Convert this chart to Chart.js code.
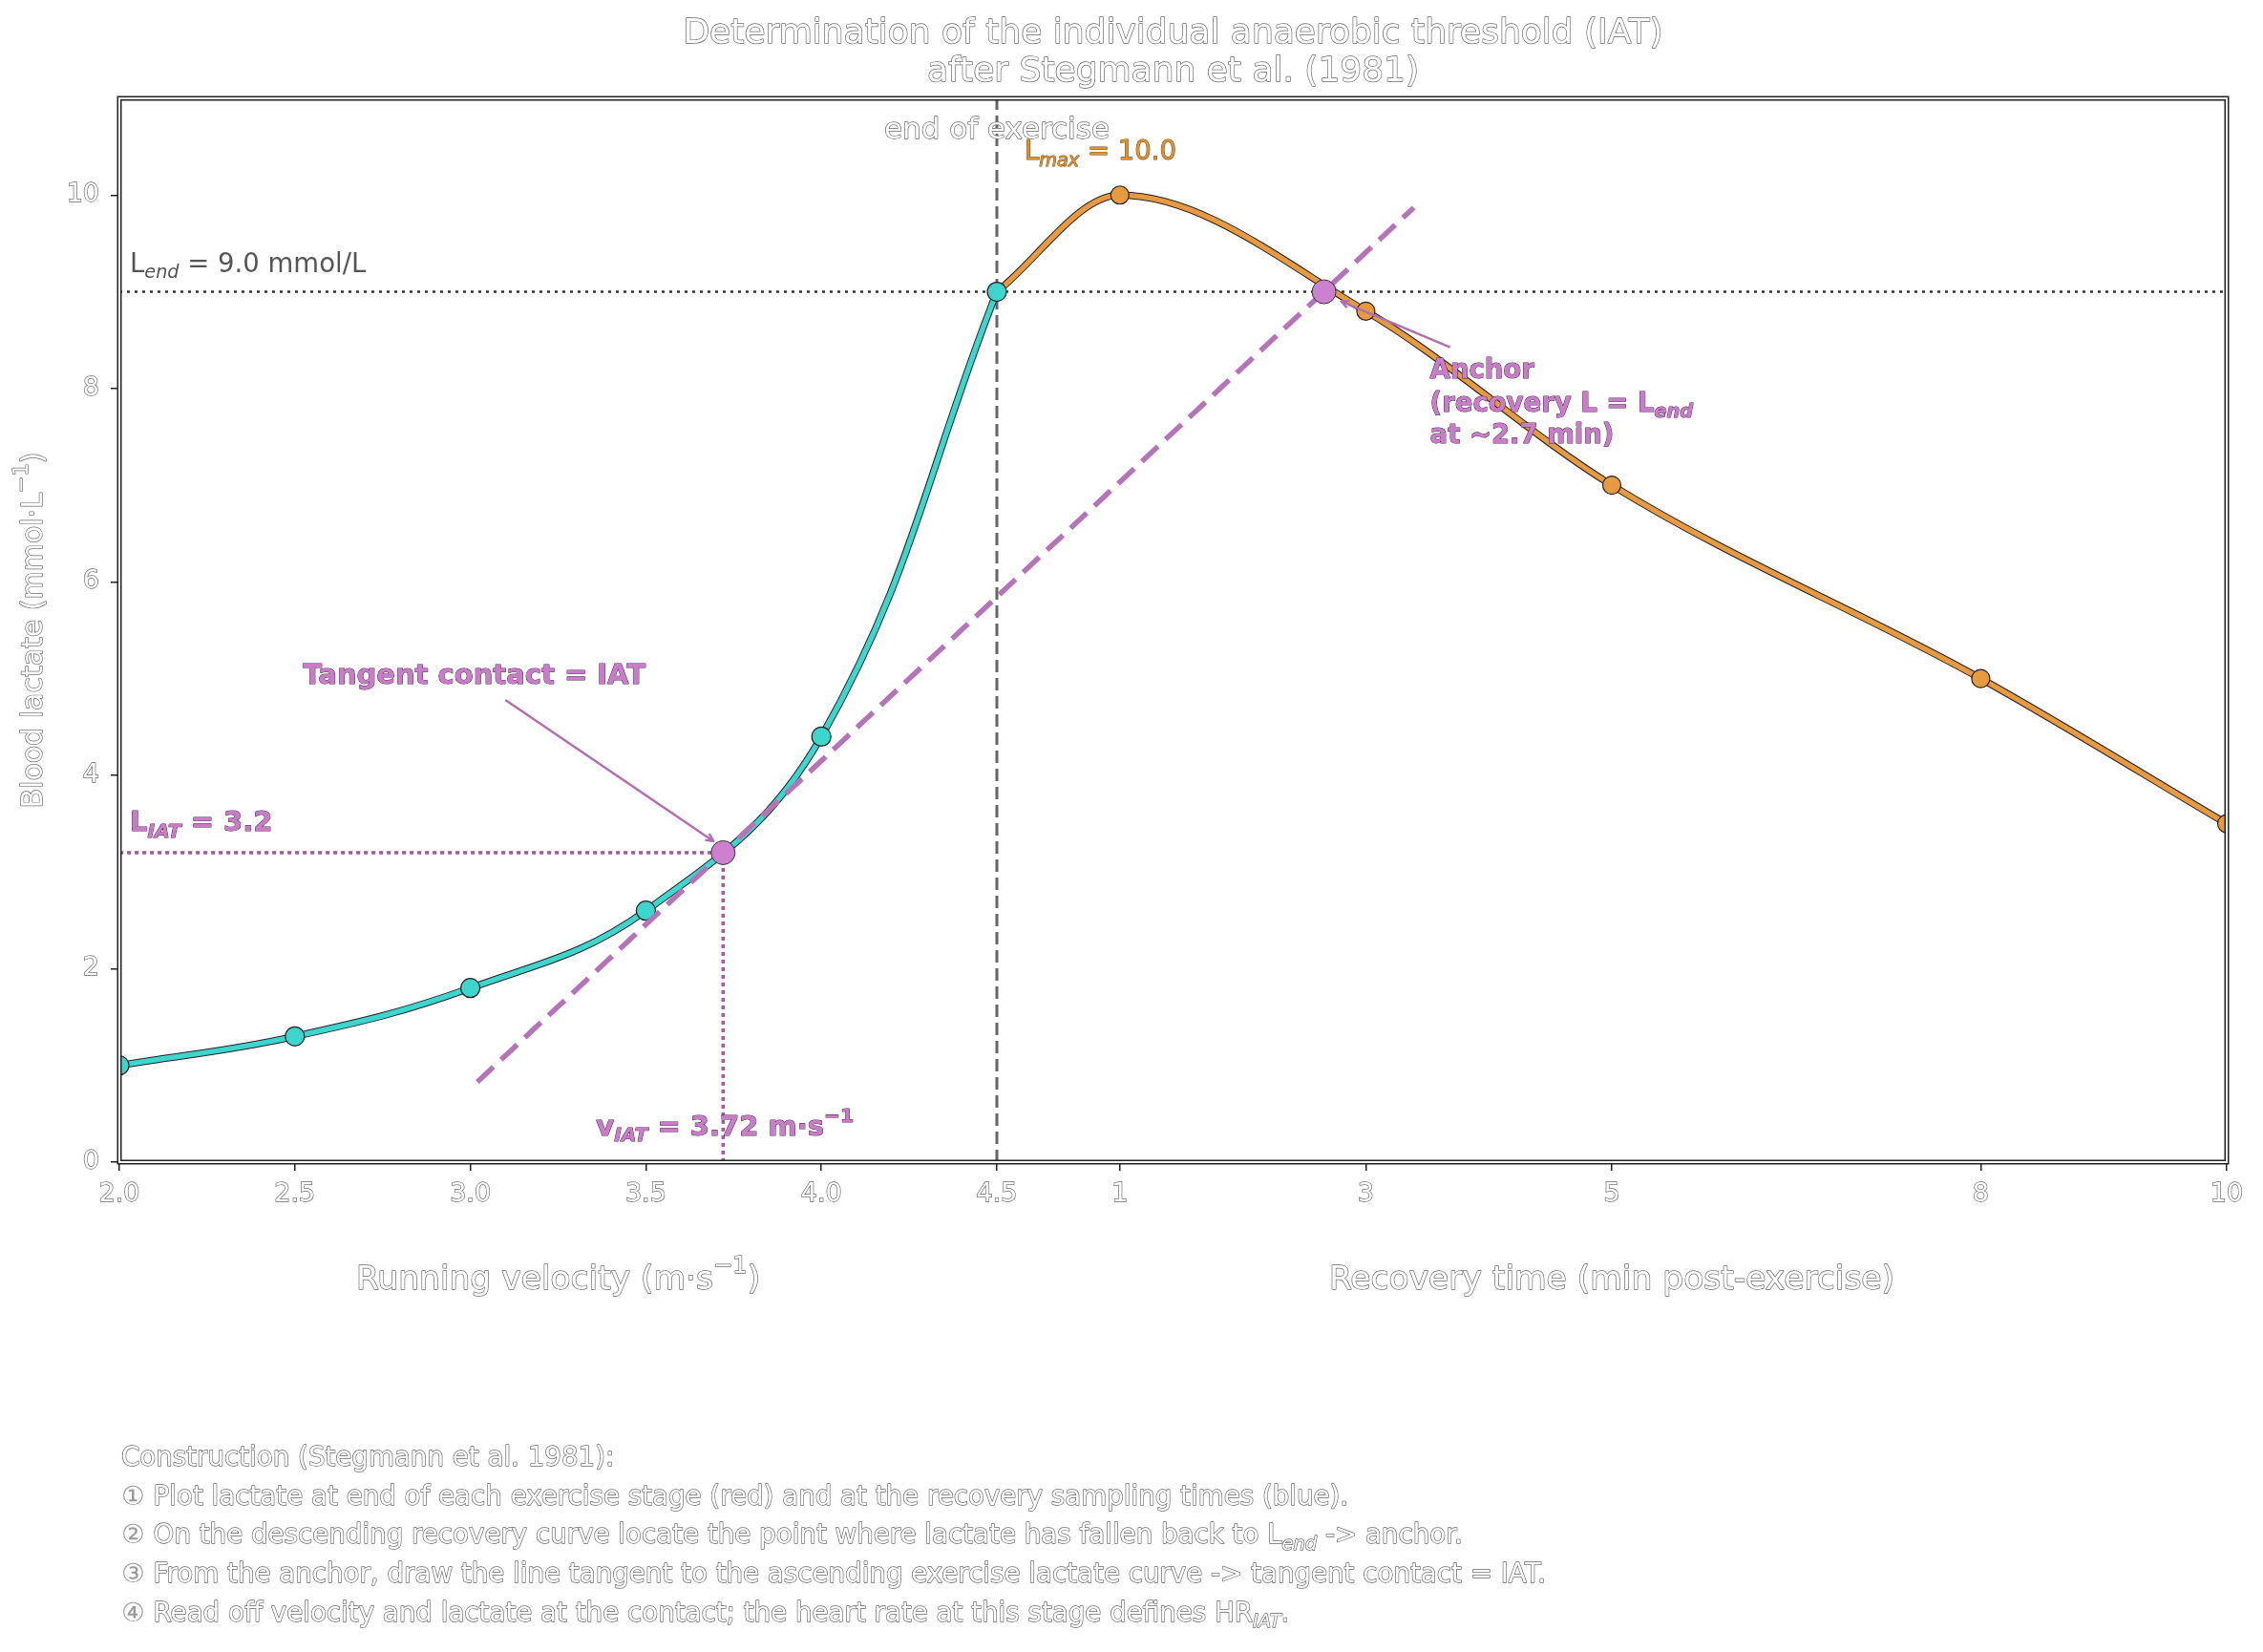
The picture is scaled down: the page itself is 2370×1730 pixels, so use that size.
<!DOCTYPE html>
<html>
<head>
<meta charset="utf-8">
<script src="https://cdn.jsdelivr.net/npm/chart.js@4.4.1/dist/chart.umd.min.js"></script>
<style>
  html, body { margin: 0; padding: 0; background: #fff; }
</style>
</head>
<body>
<canvas id="chart" width="2370" height="1730"></canvas>
<script>
// exercise test: lactate at the end of each stage
const exerciseVelocity = [2.0, 2.5, 3.0, 3.5, 4.0, 4.5];
const exerciseLactate = [1.0, 1.3, 1.8, 2.6, 4.4, 9.0];
// recovery samples (min after end of exercise)
const recoveryTime = [0, 1, 3, 5, 8, 10];
const recoveryLactate = [9.0, 10.0, 8.8, 7.0, 5.0, 3.5];
// construction points
const anchorTime = [2.66];
const anchorLactate = [9.0];
const iatVelocity = [3.72];
const iatLactate = [3.2];
const lactateEnd = 9.0;
const lactateMax = 10.0;
const tangentStart = [3.02, 0.83];   // velocity, lactate
const tangentEnd = [3.39, 9.87];     // recovery min, lactate
// ticks
const velocityTicks = [2.0, 2.5, 3.0, 3.5, 4.0, 4.5];
const recoveryTicks = [1, 3, 5, 8, 10];
const lactateTicks = [0, 2, 4, 6, 8, 10];

// one shared x axis: velocity part on the left, recovery minutes on the right
const MIN_PER_MS = 2.854;
const vEnd = exerciseVelocity[exerciseVelocity.length - 1];
function vx(v) { return (v - vEnd) * MIN_PER_MS; }

const FONT = 'DejaVu Sans';
const CYAN = '#3dd6cf', ORANGE = '#e89a40', PURPLE = '#cd80cd', PURPLE_TXT = '#c97dc9';

const exercisePts = exerciseVelocity.map((v, i) => ({ x: vx(v), y: exerciseLactate[i] }));
const recoveryPts = recoveryTime.map((t, i) => ({ x: t, y: recoveryLactate[i] }));
const xMin = vx(velocityTicks[0]);
const xMax = recoveryTicks[recoveryTicks.length - 1];

function richText(ctx, parts, x, y, o) {
    const size = o.size, w = o.weight || 'normal';
    const fontFor = p => {
        const small = p[1] === 'sub' || p[1] === 'sup';
        const it = p[1] === 'sub' ? 'italic ' : '';
        return it + w + ' ' + (small ? size * 0.7 : size) + 'px "' + FONT + '"';
    };
    let total = 0;
    parts.forEach(p => { ctx.font = fontFor(p); total += ctx.measureText(p[0]).width; });
    let cx = o.align === 'center' ? x - total / 2 : x;
    ctx.textBaseline = 'middle';
    ctx.textAlign = 'left';
    parts.forEach(p => {
        ctx.font = fontFor(p);
        const dy = p[1] === 'sub' ? size * 0.3 : p[1] === 'sup' ? -size * 0.4 : 0;
        if (p[1] === 'mark') { // circled numbers: thin glyph, no outline
            ctx.fillStyle = '#9a9a9a';
            ctx.fillText(p[0], cx, y);
        } else {
            if (o.stroke) {
                ctx.lineWidth = o.strokeWidth || 2;
                ctx.strokeStyle = o.stroke;
                ctx.lineJoin = 'round';
                ctx.strokeText(p[0], cx, y + dy);
            }
            ctx.fillStyle = o.fill;
            ctx.fillText(p[0], cx, y + dy);
        }
        cx += ctx.measureText(p[0]).width;
    });
}

function arrow(ctx, x1, y1, x2, y2) {
    ctx.save();
    ctx.strokeStyle = '#b070b0';
    ctx.lineWidth = 2.5;
    ctx.beginPath(); ctx.moveTo(x1, y1); ctx.lineTo(x2, y2); ctx.stroke();
    const a = Math.atan2(y2 - y1, x2 - x1), h = 9;
    ctx.beginPath();
    ctx.moveTo(x2 - h * Math.cos(a - 0.45), y2 - h * Math.sin(a - 0.45));
    ctx.lineTo(x2, y2);
    ctx.lineTo(x2 - h * Math.cos(a + 0.45), y2 - h * Math.sin(a + 0.45));
    ctx.stroke();
    ctx.restore();
}

const outline = { fill: '#ffffff', stroke: '#6a6a6a', strokeWidth: 1.4 };
const purpleBold = { fill: PURPLE_TXT, stroke: '#4a2a4a', strokeWidth: 1, weight: 'bold', size: 27.5 };
const purpleBig = Object.assign({}, purpleBold, { size: 29 });

const textPlugin = {
    id: 'texts',
    afterDraw(chart) {
        const ctx = chart.ctx, a = chart.chartArea;
        const xs = chart.scales.x, ys = chart.scales.y;
        ctx.save();

        // frame (double line)
        ctx.strokeStyle = '#222'; ctx.lineWidth = 5;
        ctx.strokeRect(a.left, a.top, a.right - a.left, a.bottom - a.top);
        ctx.strokeStyle = '#fff'; ctx.lineWidth = 2;
        ctx.strokeRect(a.left, a.top, a.right - a.left, a.bottom - a.top);

        const midX = (a.left + a.right) / 2;
        richText(ctx, [['Determination of the individual anaerobic threshold (IAT)']], midX, 36, Object.assign({ size: 36, align: 'center' }, outline));
        richText(ctx, [['after Stegmann et al. (1981)']], midX, 76, Object.assign({ size: 36, align: 'center' }, outline));

        const x0 = xs.getPixelForValue(0);
        richText(ctx, [['end of exercise']], x0, a.top + 34, Object.assign({ size: 31, align: 'center' }, outline));
        richText(ctx, [['L'], ['max', 'sub'], [' = ' + lactateMax.toFixed(1)]], x0 + 29, ys.getPixelForValue(lactateMax) - 44,
            { size: 27.5, fill: '#e0902f', stroke: '#6b4a20', strokeWidth: 1 });
        richText(ctx, [['L'], ['end', 'sub'], [' = ' + lactateEnd.toFixed(1) + ' mmol/L']], a.left + 11, ys.getPixelForValue(lactateEnd) - 28,
            { size: 27.5, fill: '#555' });

        const cx = xs.getPixelForValue(vx(iatVelocity[0])), cy = ys.getPixelForValue(iatLactate[0]);
        richText(ctx, [['L'], ['IAT', 'sub'], [' = ' + iatLactate[0].toFixed(1)]], a.left + 11, cy - 30, purpleBig);
        richText(ctx, [['v'], ['IAT', 'sub'], [' = ' + iatVelocity[0].toFixed(2) + ' m·s'], ['−1', 'sup']], cx - 133, a.bottom - 36, purpleBig);
        richText(ctx, [['Tangent contact = IAT']], cx - 440, cy - 184, purpleBig);
        arrow(ctx, cx - 228, cy - 160, cx - 10, cy - 12);

        const ax = xs.getPixelForValue(anchorTime[0]), ay = ys.getPixelForValue(anchorLactate[0]);
        richText(ctx, [['Anchor']], ax + 111, ay + 83, purpleBold);
        richText(ctx, [['(recovery L = L'], ['end', 'sub']], ax + 111, ay + 118, purpleBold);
        richText(ctx, [['at ~2.7 min)']], ax + 111, ay + 151, purpleBold);
        arrow(ctx, ax + 132, ay + 58, ax + 18, ay + 10);

        // axis titles
        richText(ctx, [['Running velocity (m·s'], ['−1', 'sup'], [')']], (a.left + x0) / 2, 1341, Object.assign({ size: 34.5, align: 'center' }, outline));
        richText(ctx, [['Recovery time (min post-exercise)']], (x0 + a.right) / 2, 1341, Object.assign({ size: 34.5, align: 'center' }, outline));
        ctx.save();
        ctx.translate(36, (a.top + a.bottom) / 2);
        ctx.rotate(-Math.PI / 2);
        richText(ctx, [['Blood lactate (mmol·L'], ['−1', 'sup'], [')']], 0, 0, Object.assign({ size: 30, align: 'center' }, outline));
        ctx.restore();

        // construction notes
        const notes = [
            [['Construction (Stegmann et al. 1981):']],
            [['①', 'mark'], [' Plot lactate at end of each exercise stage (red) and at the recovery sampling times (blue).']],
            [['②', 'mark'], [' On the descending recovery curve locate the point where lactate has fallen back to L'], ['end', 'sub'], [' -> anchor.']],
            [['③', 'mark'], [' From the anchor, draw the line tangent to the ascending exercise lactate curve -> tangent contact = IAT.']],
            [['④', 'mark'], [' Read off velocity and lactate at the contact; the heart rate at this stage defines HR'], ['IAT', 'sub'], ['.']]
        ];
        notes.forEach((n, i) => richText(ctx, n, 127, 1528 + i * 40.6, Object.assign({ size: 27.7 }, outline)));
        ctx.restore();
    }
};

new Chart(document.getElementById('chart'), {
    type: 'line',
    data: {
        datasets: [
            { // contact marker
                data: [{ x: vx(iatVelocity[0]), y: iatLactate[0] }],
                showLine: false, pointRadius: 12.5, pointBackgroundColor: PURPLE,
                pointBorderColor: '#333', pointBorderWidth: 1, order: 0
            },
            { // anchor marker
                data: [{ x: anchorTime[0], y: anchorLactate[0] }],
                showLine: false, pointRadius: 12.5, pointBackgroundColor: PURPLE,
                pointBorderColor: '#333', pointBorderWidth: 1, order: 0
            },
            { // tangent
                data: [{ x: vx(tangentStart[0]), y: tangentStart[1] }, { x: tangentEnd[0], y: tangentEnd[1] }],
                borderColor: '#b574b8', borderWidth: 5.5, borderDash: [23, 11], pointRadius: 0, order: 2
            },
            { // exercise curve
                data: exercisePts, borderColor: CYAN, borderWidth: 5.5, tension: 0.4,
                pointRadius: 10, pointBackgroundColor: CYAN, pointBorderColor: '#222', pointBorderWidth: 1.2,
                clip: 0, order: 3
            },
            {
                data: exercisePts, borderColor: '#222', borderWidth: 7.5, tension: 0.4,
                pointRadius: 0, clip: 0, order: 4
            },
            { // recovery curve
                data: recoveryPts, borderColor: ORANGE, borderWidth: 5.5, cubicInterpolationMode: 'monotone',
                pointRadius: recoveryTime.map((t, i) => i === 0 ? 0 : 9.5),
                pointBackgroundColor: ORANGE, pointBorderColor: '#222', pointBorderWidth: 1.2,
                clip: 0, order: 5
            },
            {
                data: recoveryPts, borderColor: '#222', borderWidth: 7.5, cubicInterpolationMode: 'monotone',
                pointRadius: 0, clip: 0, order: 6
            },
            { // L_end reference
                data: [{ x: xMin, y: lactateEnd }, { x: xMax, y: lactateEnd }],
                borderColor: '#333', borderWidth: 2.5, borderDash: [3, 5], pointRadius: 0, order: 8
            },
            { // end of exercise
                data: [{ x: 0, y: 0 }, { x: 0, y: 11 }],
                borderColor: '#666', borderWidth: 3, borderDash: [13, 6], pointRadius: 0, order: 8
            },
            { // L_IAT
                data: [{ x: xMin, y: iatLactate[0] }, { x: vx(iatVelocity[0]), y: iatLactate[0] }],
                borderColor: '#9c5f9c', borderWidth: 3.5, borderDash: [4, 4], pointRadius: 0, order: 8
            },
            { // v_IAT
                data: [{ x: vx(iatVelocity[0]), y: iatLactate[0] }, { x: vx(iatVelocity[0]), y: 0 }],
                borderColor: '#9c5f9c', borderWidth: 3.5, borderDash: [4, 4], pointRadius: 0, order: 8
            }
        ]
    },
    options: {
        responsive: false,
        animation: false,
        devicePixelRatio: 1,
        layout: { padding: { top: 103, right: 38, left: 0, bottom: 0 } },
        plugins: { legend: { display: false }, tooltip: { enabled: false } },
        scales: {
            x: {
                type: 'linear', min: xMin, max: xMax,
                afterBuildTicks: s => {
                    s.ticks = velocityTicks.map(v => ({ value: vx(v) })).concat(recoveryTicks.map(t => ({ value: t })));
                },
                afterFit: s => { s.height = 513; },
                ticks: {
                    autoSkip: false, maxRotation: 0, padding: 9,
                    color: '#fff', textStrokeColor: '#6a6a6a', textStrokeWidth: 1.4,
                    font: { family: FONT, size: 27 },
                    callback: v => v <= 0.001 ? (v / MIN_PER_MS + vEnd).toFixed(1) : String(Math.round(v))
                },
                grid: { drawOnChartArea: false, drawTicks: true, tickLength: 9, color: '#222', lineWidth: 1.5 },
                border: { display: false }
            },
            y: {
                type: 'linear', min: 0, max: 11,
                afterBuildTicks: s => { s.ticks = lactateTicks.map(v => ({ value: v })); },
                afterFit: s => { s.width = 125; },
                ticks: {
                    padding: 12,
                    color: '#fff', textStrokeColor: '#6a6a6a', textStrokeWidth: 1.4,
                    font: { family: FONT, size: 27 }
                },
                grid: { drawOnChartArea: false, drawTicks: true, tickLength: 9, color: '#222', lineWidth: 1.5 },
                border: { display: false }
            }
        }
    },
    plugins: [textPlugin]
});
</script>
</body>
</html>
